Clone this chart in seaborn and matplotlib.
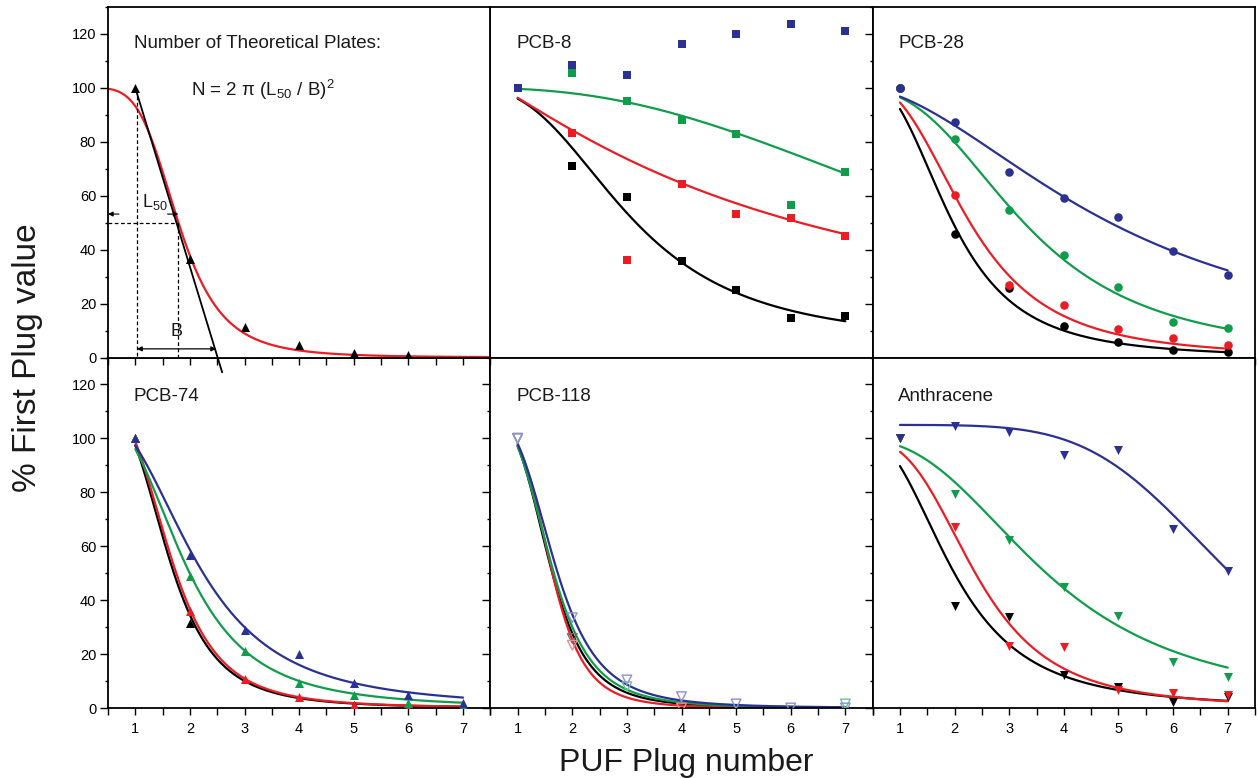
import numpy as np
import pandas as pd
import matplotlib
matplotlib.use("Agg")
import matplotlib.pyplot as plt
import seaborn as sns
from matplotlib.ticker import MultipleLocator

# ---------------------------------------------------------------- data
plug = [1, 2, 3, 4, 5, 6, 7]

# reference panel (theoretical plates illustration)
ref_plug = [1, 2, 3, 4, 5, 6]
ref_points = [100, 36.5, 11.4, 4.6, 1.7, 1.1]

# % of first-plug value, per compound and series
pcb8_black = [100, 70.9, 59.6, 35.8, 25.2, 14.8, 15.4]
pcb8_red = [100, 83.3, 36.2, 64.4, 53.2, 51.9, 45.2]
pcb8_green = [100, 105.7, 95.3, 88.0, 83.0, 56.5, 68.8]
pcb8_blue = [100, 108.5, 104.7, 116.2, 120.0, 123.6, 121.2]

pcb28_black = [100, 45.8, 25.7, 11.6, 5.8, 2.8, 2.0]
pcb28_red = [100, 60.2, 26.9, 19.5, 10.5, 7.4, 4.8]
pcb28_green = [100, 81.2, 54.6, 38.0, 26.2, 13.0, 11.0]
pcb28_blue = [100, 87.3, 68.9, 59.3, 52.1, 39.5, 30.5]

pcb74_black = [100, 31.4, np.nan, np.nan, 1.0, np.nan, np.nan]
pcb74_red = [100, 36.0, 10.6, 4.2, 1.1, 0.0, np.nan]
pcb74_green = [100, 49.0, 21.1, 9.4, 4.8, 1.7, 0.7]
pcb74_blue = [100, 56.9, 28.9, 20.2, 9.1, 4.8, 2.0]

pcb118_black = [100, 25.8, np.nan, np.nan, np.nan, np.nan, np.nan]
pcb118_red = [100, 23.3, np.nan, 0.0, np.nan, np.nan, np.nan]
pcb118_green = [100, np.nan, 7.9, np.nan, np.nan, np.nan, 1.5]
pcb118_blue = [100, 33.5, 10.4, 4.2, 1.5, 0.0, 0.0]

anth_black = [100, 37.8, 33.6, 12.2, 7.7, 2.3, 4.2]
anth_red = [100, 67.2, 23.0, 22.7, 6.7, 5.7, 4.8]
anth_green = [100, 79.5, 62.2, 44.9, 34.1, 17.2, 11.4]
anth_blue = [100, 104.6, 102.3, 94.0, 95.6, 66.5, 50.9]

# logistic fit parameters (A1, A2, x0, p):  y = A2 + (A1 - A2) / (1 + (x / x0)^p)
ref_fit = (100, 0, 1.79, 4.5)
pcb8_fits = {"black": (100, 5, 3.05, 2.8), "red": (107, 0, 5.57, 1.28),
             "green": (100, 0, 9.5, 2.5)}
pcb28_fits = {"black": (105, 0, 1.91, 3.05), "red": (103, 0, 2.24, 3.0),
              "green": (100, 0, 3.27, 2.8), "blue": (101, 0, 4.8, 2.0)}
pcb74_fits = {"black": (115, 0, 1.59, 3.7), "red": (115, 0, 1.63, 3.7),
              "green": (110, 0, 1.88, 3.05), "blue": (110, 0, 2.10, 2.75)}
pcb118_fits = {"black": (110, 0, 1.57, 4.5), "red": (106, 0, 1.60, 5.2),
               "green": (110, 0, 1.594, 4.3), "blue": (110, 0, 1.66, 4.15)}
anth_fits = {"black": (103, 0, 1.956, 2.85), "red": (100, 0, 2.38, 3.4),
             "green": (100, 0, 3.68, 2.7), "blue": (105, 0, 6.93, 5.3)}

panel_titles = ["PCB-8", "PCB-28", "PCB-74", "PCB-118", "Anthracene"]
x_label = "PUF Plug number"
y_label = "% First Plug value"

# ---------------------------------------------------------------- style
COLORS = {"black": "#000000", "red": "#ec1c24", "green": "#0f9d4b", "blue": "#2b3192"}
LIGHT = {"black": "#6e6e6e", "red": "#f08a8a", "green": "#6cc393", "blue": "#8d90d6"}
TEXT = "#1a1a1a"

sns.set_theme(style="ticks")
plt.rcParams["font.family"] = ["Liberation Sans", "DejaVu Sans"]
plt.rcParams.update({
    "mathtext.fontset": "custom",
    "mathtext.rm": "Liberation Sans",
    "mathtext.it": "Liberation Sans:italic",
    "mathtext.bf": "Liberation Sans:bold",
    "axes.linewidth": 1.3,
    "axes.edgecolor": "black",
    "xtick.color": "black",
    "ytick.color": "black",
    "xtick.labelsize": 10.5,
    "ytick.labelsize": 10.5,
})


def logistic(x, a1, a2, x0, p):
    return a2 + (a1 - a2) / (1.0 + (x / x0) ** p)


def draw_fit(ax, params, color, lo=1.0, hi=7.0):
    xs = np.linspace(lo, hi, 300)
    df = pd.DataFrame({"x": xs, "y": logistic(xs, *params)})
    sns.lineplot(data=df, x="x", y="y", color=color, linewidth=1.6,
                 estimator=None, sort=False, ax=ax, legend=False, zorder=2)


def draw_points(ax, xs, ys, color, marker, size, hollow=False):
    df = pd.DataFrame({"x": xs, "y": ys}).dropna()
    if hollow:
        sns.scatterplot(data=df, x="x", y="y", marker=marker, s=size, color=color,
                        facecolor="none", edgecolor=color, linewidth=1.0,
                        ax=ax, legend=False, zorder=3)
    else:
        sns.scatterplot(data=df, x="x", y="y", marker=marker, s=size, color=color,
                        edgecolor=color, linewidth=0, ax=ax, legend=False, zorder=3)


fig, axes = plt.subplots(2, 3, figsize=(12.58, 7.78), dpi=100, sharex=True, sharey=True)
fig.subplots_adjust(left=108 / 1258, right=1255 / 1258, top=1 - 7 / 778,
                    bottom=1 - 708 / 778, wspace=0, hspace=0)

# ---------------------------------------------------------------- panel 1
ax = axes[0, 0]
ax.set_zorder(2)
draw_fit(ax, ref_fit, COLORS["red"], lo=0.5, hi=7.5)
draw_points(ax, ref_plug, ref_points, COLORS["black"], "^", 42)
ax.plot([1.0, 2.59], [100, -5.5], color="black", lw=1.3, clip_on=False, zorder=2.5)
dash = (0, (3, 2))
ax.plot([1.03, 1.03], [97, 0], color="black", lw=0.9, ls=dash)
ax.plot([1.79, 1.79], [50, 0], color="black", lw=0.9, ls=dash)
ax.plot([0.5, 1.79], [50, 50], color="black", lw=0.9, ls=dash)
arrow = dict(arrowstyle="-|>", lw=0.8, color="black", mutation_scale=7,
             shrinkA=0, shrinkB=0)
ax.annotate("", xy=(0.5, 53.2), xytext=(0.7, 53.2), arrowprops=arrow)
ax.annotate("", xy=(1.79, 53.2), xytext=(1.59, 53.2), arrowprops=arrow)
ax.annotate("", xy=(1.03, 3.2), xytext=(2.48, 3.2),
            arrowprops=dict(arrowstyle="<|-|>", lw=0.9, color="black",
                            mutation_scale=7, shrinkA=0, shrinkB=0))
ax.text(1.12, 57.5, r"L$_{50}$", fontsize=13, color=TEXT, ha="left", va="center")
ax.text(1.76, 9.5, "B", fontsize=13, color=TEXT, ha="center", va="center")
ax.text(0.98, 116.5, "Number of Theoretical Plates:", fontsize=13.5, color=TEXT,
        ha="left", va="center")
ax.text(2.02, 99.3, r"N = 2 π (L$_{50}$ / B)$^{2}$", fontsize=13.5, color=TEXT,
        ha="left", va="center")

# ---------------------------------------------------------------- compound panels
panels = [
    (axes[0, 1], "PCB-8", "s", 36, False,
     {"black": pcb8_black, "red": pcb8_red, "green": pcb8_green, "blue": pcb8_blue},
     pcb8_fits),
    (axes[0, 2], "PCB-28", "o", 38, False,
     {"black": pcb28_black, "red": pcb28_red, "green": pcb28_green, "blue": pcb28_blue},
     pcb28_fits),
    (axes[1, 0], "PCB-74", "^", 42, False,
     {"black": pcb74_black, "red": pcb74_red, "green": pcb74_green, "blue": pcb74_blue},
     pcb74_fits),
    (axes[1, 1], "PCB-118", "v", 48, True,
     {"black": pcb118_black, "red": pcb118_red, "green": pcb118_green, "blue": pcb118_blue},
     pcb118_fits),
    (axes[1, 2], "Anthracene", "v", 42, False,
     {"black": anth_black, "red": anth_red, "green": anth_green, "blue": anth_blue},
     anth_fits),
]

for ax, title, marker, size, hollow, series, fits in panels:
    for name in ["black", "red", "green", "blue"]:
        if name in fits:
            draw_fit(ax, fits[name], COLORS[name])
    for name in ["black", "red", "green", "blue"]:
        mcol = LIGHT[name] if hollow else COLORS[name]
        draw_points(ax, plug, series[name], mcol, marker, size, hollow=hollow)
    ty = 115.5 if ax in axes[1] else 116.5
    ax.text(0.97, ty, title, fontsize=13.5, color=TEXT, ha="left", va="center")

# ---------------------------------------------------------------- axes cosmetics
for ax in axes.flat:
    ax.set_xlim(0.5, 7.5)
    ax.set_ylim(0, 130)
    ax.xaxis.set_major_locator(MultipleLocator(1))
    ax.xaxis.set_minor_locator(MultipleLocator(0.5))
    ax.yaxis.set_major_locator(MultipleLocator(20))
    ax.yaxis.set_minor_locator(MultipleLocator(10))
    ax.tick_params(which="both", direction="out", width=1.0, top=False, right=False)
    ax.tick_params(axis="x", which="both", length=5, pad=5)
    ax.tick_params(axis="y", which="major", length=5.5, pad=3)
    ax.tick_params(axis="y", which="minor", length=2.5)
    for sp in ax.spines.values():
        sp.set_visible(True)
        sp.set_linewidth(1.3)
        sp.set_color("black")
    ax.set_xlabel("")
    ax.set_ylabel("")

fig.text(686 / 1258, 1 - 771 / 778, x_label, fontsize=23, color=TEXT,
         ha="center", va="baseline")
fig.text(28 / 1258, 1 - 358 / 778, y_label, fontsize=24, color=TEXT,
         ha="center", va="center", rotation=90)

fig.savefig("out.png", dpi=100)
